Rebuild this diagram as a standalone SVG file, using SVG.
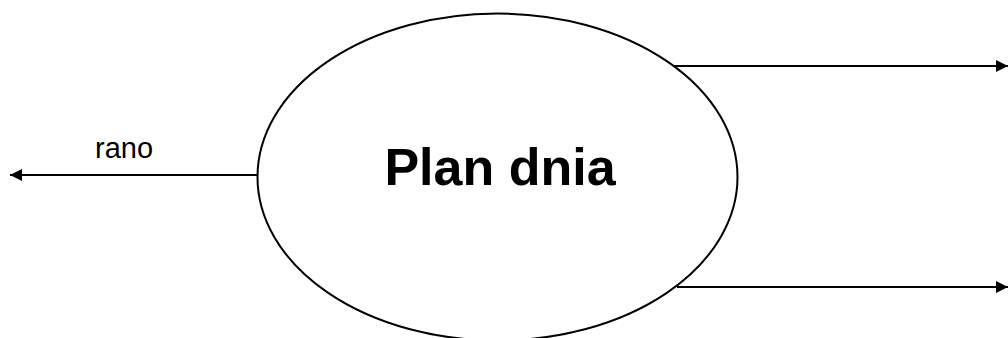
<svg xmlns="http://www.w3.org/2000/svg" width="1008" height="338" viewBox="0 0 1008 338">
<style>
.c{stroke:#000;stroke-width:2;fill:none}
.t{font-family:"Liberation Sans",Arial,sans-serif;fill:#000}
</style>
<defs>
<marker id="ah" viewBox="0 0 10 10" refX="10" refY="5" markerWidth="8" markerHeight="6" markerUnits="strokeWidth" orient="auto">
<path d="M0,0 L10,5 L0,10 z" fill="#000"/>
</marker>
</defs>
<rect width="1008" height="338" fill="#fff"/>
<g id="node-plan">
<ellipse cx="497.5" cy="177" rx="240" ry="163.5" fill="#fff" stroke="#000" stroke-width="2"/>
<text class="t" x="500" y="185" font-size="52" font-weight="bold" text-anchor="middle">Plan dnia</text>
</g>
<g id="connectors">
<line class="c" x1="257" y1="175" x2="10" y2="175" marker-end="url(#ah)"/>
<line class="c" x1="673" y1="66" x2="1008" y2="66" marker-end="url(#ah)"/>
<line class="c" x1="677" y1="287" x2="1008" y2="287" marker-end="url(#ah)"/>
<text class="t" x="124" y="158" font-size="29" text-anchor="middle">rano</text>
</g>
</svg>
